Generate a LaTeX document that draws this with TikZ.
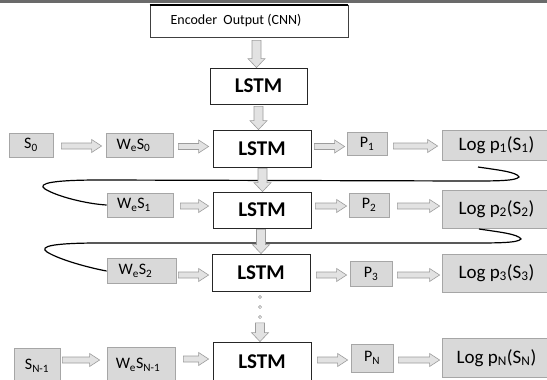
\documentclass[tikz,border=0pt]{standalone}
\usepackage{fontspec}
\setmainfont{Carlito}
\usetikzlibrary{calc}
\definecolor{boxfill}{HTML}{D9D9D9}
\definecolor{boxline}{HTML}{A6A6A6}
\definecolor{arrfill}{HTML}{E2E2E2}
\definecolor{arrline}{HTML}{9C9C9C}
\definecolor{topline}{HTML}{6A6A6A}
\tikzset{
 gbox/.style={draw=boxline, fill=boxfill, line width=0.8pt, inner sep=0pt, font=\fontsize{16}{18}\selectfont},
 logbox/.style={gbox, minimum width=109, font=\fontsize{19}{22}\selectfont},
 lbox/.style={draw=black!85, fill=white, line width=0.8pt, inner sep=0pt, minimum width=98, font=\fontsize{21}{24}\selectfont\bfseries},
 encbox/.style={draw=black!75, fill=white, line width=0.7pt, inner sep=0pt, font=\fontsize{14}{16}\selectfont},
 dotc/.style={circle, draw=black!45, fill=white, line width=0.5pt, inner sep=0pt, minimum size=3.2pt},
 harr/.style={draw=arrline, fill=arrfill, line width=0.6pt, to path={let \p1=(\tikztostart), \p2=(\tikztotarget) in
   (\x1,\y1+3pt) -- (\x2-10pt,\y1+3pt) -- (\x2-10pt,\y1+6.5pt) -- (\x2,\y1) -- (\x2-10pt,\y1-6.5pt) -- (\x2-10pt,\y1-3pt) -- (\x1,\y1-3pt) -- cycle}},
 varr/.style={draw=arrline, fill=arrfill, line width=0.6pt, to path={let \p1=(\tikztostart), \p2=(\tikztotarget) in
   (\x1-4.5pt,\y1) -- (\x1-4.5pt,\y2+9pt) -- (\x1-8.5pt,\y2+9pt) -- (\x1,\y2) -- (\x1+8.5pt,\y2+9pt) -- (\x1+4.5pt,\y2+9pt) -- (\x1+4.5pt,\y1) -- cycle}},
 fbcurve/.style={draw=black, line width=1.2pt}
}
\begin{document}
\begin{tikzpicture}[x=1pt,y=-1pt]
\useasboundingbox (0,0) rectangle (547,380);
\clip (0,0) rectangle (547,380);
\fill[white] (0,0) rectangle (547,380);
% top rule
\coordinate (tl) at (0,1.5);
\coordinate (tr) at (547,1.5);
\draw[topline, line width=2.2pt] (tl) -- (tr);
% encoder
\node[encbox, minimum width=198, minimum height=32] (enc) at (249,21) {\hspace*{-26pt}Encoder\ \ Output (CNN)};
\draw[black, line width=2pt] (enc.north west) -- (enc.north east);
% LSTM column
\node[lbox, minimum width=97, minimum height=36] (lstm0) at (258.5,86) {LSTM};
\node[lbox, minimum height=37] (lstm1) at (262,148.5) {LSTM};
\node[lbox, minimum height=36] (lstm2) at (262,210) {LSTM};
\node[lbox, minimum height=37] (lstm3) at (261,272.5) {LSTM};
\node[lbox, minimum height=40] (lstmN) at (262,362) {LSTM};
% row 1
\node[gbox, minimum width=44, minimum height=24] (s0) at (31,145) {S\textsubscript{0}};
\node[gbox, minimum width=67, minimum height=24] (wes0) at (139.5,145.5) {\hspace*{-12pt}W\textsubscript{e}S\textsubscript{0}};
\node[gbox, minimum width=40, minimum height=23] (p1) at (367,144) {P\textsubscript{1}};
\node[logbox, minimum height=30] (log1) at (496.5,145) {Log p\textsubscript{1}(S\textsubscript{1})};
% row 2
\node[gbox, minimum width=66, minimum height=24] (wes1) at (140,205) {\hspace*{-12pt}W\textsubscript{e}S\textsubscript{1}};
\node[gbox, minimum width=40, minimum height=24] (p2) at (369,205) {P\textsubscript{2}};
\node[logbox, minimum height=38] (log2) at (496.5,209) {Log p\textsubscript{2}(S\textsubscript{2})};
% row 3
\node[gbox, minimum width=69, minimum height=25] (wes2) at (141.5,271) {\hspace*{-12pt}W\textsubscript{e}S\textsubscript{2}};
\node[gbox, minimum width=42, minimum height=25] (p3) at (371,274) {P\textsubscript{3}};
\node[logbox, minimum height=38] (log3) at (496.5,273) {Log p\textsubscript{3}(S\textsubscript{3})};
% row N
\node[gbox, minimum width=46, minimum height=36] (sN1) at (37,366) {\raisebox{-4pt}{S\textsubscript{N-1}}};
\node[gbox, minimum width=68, minimum height=36] (wesN1) at (141,365) {\hspace*{-6pt}\raisebox{-4pt}{W\textsubscript{e}S\textsubscript{N-1}}};
\node[gbox, minimum width=42, minimum height=28] (pN) at (372,358) {P\textsubscript{N}};
\node[logbox, minimum height=39] (logN) at (496.5,358) {Log p\textsubscript{N}(S\textsubscript{N})};
% dots
\node[dotc] (d1) at (260,297) {};
\node[dotc] (d2) at (260,307) {};
\node[dotc] (d3) at (260,317) {};
% feedback curves
\coordinate (c1s) at (478,167);
\draw[fbcurve] (c1s) .. controls (498,170) and (517,172) .. (519,177)
  .. controls (516,181) and (495,181) .. (470,181) -- (100,180)
  .. controls (55,180) and (36,183) .. (45,189)
  .. controls (58,197) and (88,204) .. (wes1.west);
\coordinate (c2s) at (479,229);
\draw[fbcurve] (c2s) .. controls (499,232) and (518,234) .. (521,239)
  .. controls (518,243) and (497,243) .. (470,243) -- (100,243)
  .. controls (55,243) and (38,246) .. (47,252)
  .. controls (60,260) and (90,268) .. (wes2.west);
% vertical arrows
\draw[varr] ($(enc.south)+(7.5,3)$) to (lstm0.north);
\draw[varr] ($(lstm0.south)+(0,2)$) to (lstm1.north);
\draw[varr] ($(lstm1.south)+(0.5,1)$) to (lstm2.north);
\draw[varr] ($(lstm2.south)+(-1,1)$) to (lstm3.north);
\draw[varr] ($(d3.south)+(0,4)$) to (lstmN.north);
% row 1 arrows
\draw[harr] ($(s0.east)+(8,1)$) to ($(wes0.west)+(-4,0)$);
\draw[harr] ($(wes0.east)+(5,1)$) to ($(lstm1.west)+(-4,0)$);
\draw[harr] ($(lstm1.east)+(3,-2)$) to ($(p1.west)+(-2,0)$);
\draw[harr] ($(p1.east)+(6,2)$) to ($(log1.west)+(-4,0)$);
% row 2 arrows
\draw[harr] ($(wes1.east)+(7,1)$) to ($(lstm2.west)+(-4,0)$);
\draw[harr] ($(lstm2.east)+(4,-4)$) to ($(p2.west)+(-2,0)$);
\draw[harr] ($(p2.east)+(8,1)$) to ($(log2.west)+(-2,0)$);
% row 3 arrows
\draw[harr] ($(wes2.east)+(2,4)$) to ($(lstm3.west)+(-3,0)$);
\draw[harr] ($(lstm3.east)+(6,2.5)$) to ($(p3.west)+(-3,0)$);
\draw[harr] ($(p3.east)+(5,1)$) to ($(log3.west)+(-2,0)$);
% row N arrows
\draw[harr] ($(sN1.east)+(2,-6)$) to ($(wesN1.west)+(-7,0)$);
\draw[harr] ($(wesN1.east)+(8,-6)$) to ($(lstmN.west)+(-4,0)$);
\draw[harr] ($(lstmN.east)+(6,-2)$) to ($(pN.west)+(-3,0)$);
\draw[harr] ($(pN.east)+(5,2)$) to ($(logN.west)+(-2,0)$);
\end{tikzpicture}
\end{document}
